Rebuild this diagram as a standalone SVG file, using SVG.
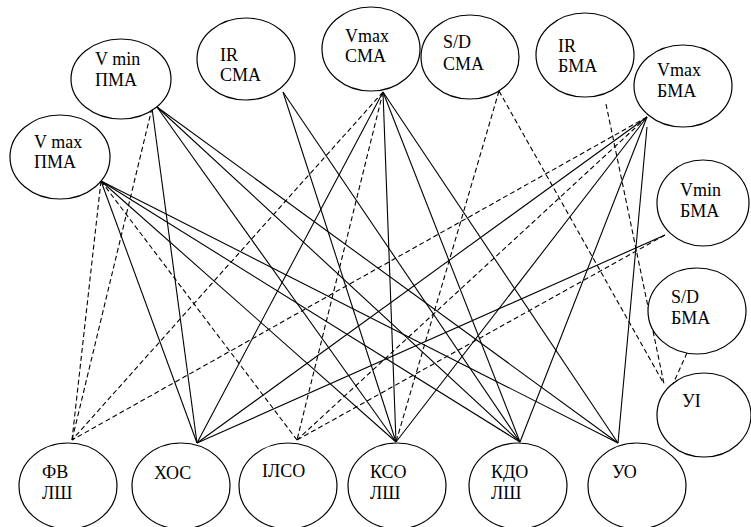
<svg xmlns="http://www.w3.org/2000/svg" width="751" height="527" viewBox="0 0 751 527">
<style>
.n ellipse{fill:#fff;stroke:#000;stroke-width:1.2}
.n text{font-family:"Liberation Serif","DejaVu Serif",serif;font-size:18px;fill:#000}
#edges line{stroke:#000;stroke-width:1.1}
#edges line.d{stroke-dasharray:5,3}
</style>
<rect width="751" height="527" fill="#fff"/>
<g id="edges">
<line class="d" x1="152" y1="108" x2="72" y2="440"/>
<line x1="152" y1="108" x2="197" y2="443"/>
<line x1="157" y1="107" x2="396" y2="442"/>
<line x1="157" y1="107" x2="520" y2="442"/>
<line x1="157" y1="107" x2="618" y2="443"/>
<line class="d" x1="101" y1="181" x2="72" y2="440"/>
<line x1="101" y1="181" x2="197" y2="443"/>
<line class="d" x1="101" y1="181" x2="297" y2="440"/>
<line x1="101" y1="181" x2="396" y2="442"/>
<line x1="101" y1="181" x2="520" y2="442"/>
<line x1="101" y1="181" x2="618" y2="443"/>
<line x1="283" y1="92" x2="396" y2="442"/>
<line x1="283" y1="92" x2="520" y2="442"/>
<line class="d" x1="383" y1="92" x2="72" y2="440"/>
<line x1="383" y1="92" x2="197" y2="443"/>
<line class="d" x1="383" y1="92" x2="297" y2="440"/>
<line x1="383" y1="92" x2="396" y2="442"/>
<line x1="383" y1="92" x2="520" y2="442"/>
<line x1="383" y1="92" x2="618" y2="443"/>
<line class="d" x1="499" y1="91" x2="396" y2="442"/>
<line class="d" x1="499" y1="91" x2="664" y2="384"/>
<line class="d" x1="606" y1="104" x2="664" y2="384"/>
<line class="d" x1="647" y1="117" x2="72" y2="440"/>
<line x1="647" y1="117" x2="197" y2="443"/>
<line class="d" x1="647" y1="117" x2="297" y2="440"/>
<line x1="647" y1="117" x2="396" y2="442"/>
<line x1="647" y1="117" x2="520" y2="442"/>
<line x1="647" y1="127" x2="618" y2="443"/>
<line x1="665" y1="235" x2="197" y2="443"/>
<line class="d" x1="665" y1="235" x2="297" y2="440"/>
<line class="d" x1="687" y1="353" x2="673" y2="384"/>
</g>
<g id="vmin-pma" class="n"><ellipse cx="121" cy="79" rx="50" ry="40"/><text x="95" y="65">V min</text><text x="95" y="86">ПМА</text></g>
<g id="vmax-pma" class="n"><ellipse cx="60" cy="157" rx="50" ry="42"/><text x="34" y="148">V max</text><text x="34" y="168">ПМА</text></g>
<g id="ir-sma" class="n"><ellipse cx="246" cy="59" rx="49" ry="41"/><text x="220" y="61">IR</text><text x="220" y="81">СМА</text></g>
<g id="vmax-sma" class="n"><ellipse cx="371" cy="49" rx="49" ry="42"/><text x="345" y="42">Vmax</text><text x="345" y="62">СМА</text></g>
<g id="sd-sma" class="n"><ellipse cx="470" cy="57" rx="49" ry="42"/><text x="443" y="48">S/D</text><text x="443" y="70">СМА</text></g>
<g id="ir-bma" class="n"><ellipse cx="585" cy="55" rx="49" ry="42"/><text x="558" y="52">IR</text><text x="558" y="72">БМА</text></g>
<g id="vmax-bma" class="n"><ellipse cx="683" cy="86" rx="49" ry="41"/><text x="657" y="76">Vmax</text><text x="657" y="97">БМА</text></g>
<g id="vmin-bma" class="n"><ellipse cx="703" cy="203" rx="46" ry="43"/><text x="680" y="196">Vmin</text><text x="680" y="217">БМА</text></g>
<g id="sd-bma" class="n"><ellipse cx="697" cy="311" rx="49" ry="43"/><text x="671" y="303">S/D</text><text x="671" y="324">БМА</text></g>
<g id="ui" class="n"><ellipse cx="704" cy="415" rx="47" ry="42"/><text x="682" y="407">УІ</text></g>
<g id="fv-lsh" class="n"><ellipse cx="68" cy="486" rx="49" ry="43"/><text x="42" y="478">ФВ</text><text x="42" y="499">ЛШ</text></g>
<g id="khos" class="n"><ellipse cx="181" cy="486" rx="49" ry="43"/><text x="154" y="479">ХОС</text></g>
<g id="ilso" class="n"><ellipse cx="288" cy="486" rx="49" ry="43"/><text x="262" y="477">ІЛСО</text></g>
<g id="kso-lsh" class="n"><ellipse cx="397" cy="486" rx="49" ry="43"/><text x="370" y="478">КСО</text><text x="370" y="499">ЛШ</text></g>
<g id="kdo-lsh" class="n"><ellipse cx="518" cy="486" rx="49" ry="43"/><text x="491" y="478">КДО</text><text x="491" y="499">ЛШ</text></g>
<g id="uo" class="n"><ellipse cx="637" cy="486" rx="49" ry="43"/><text x="612" y="478">УО</text></g>
</svg>
